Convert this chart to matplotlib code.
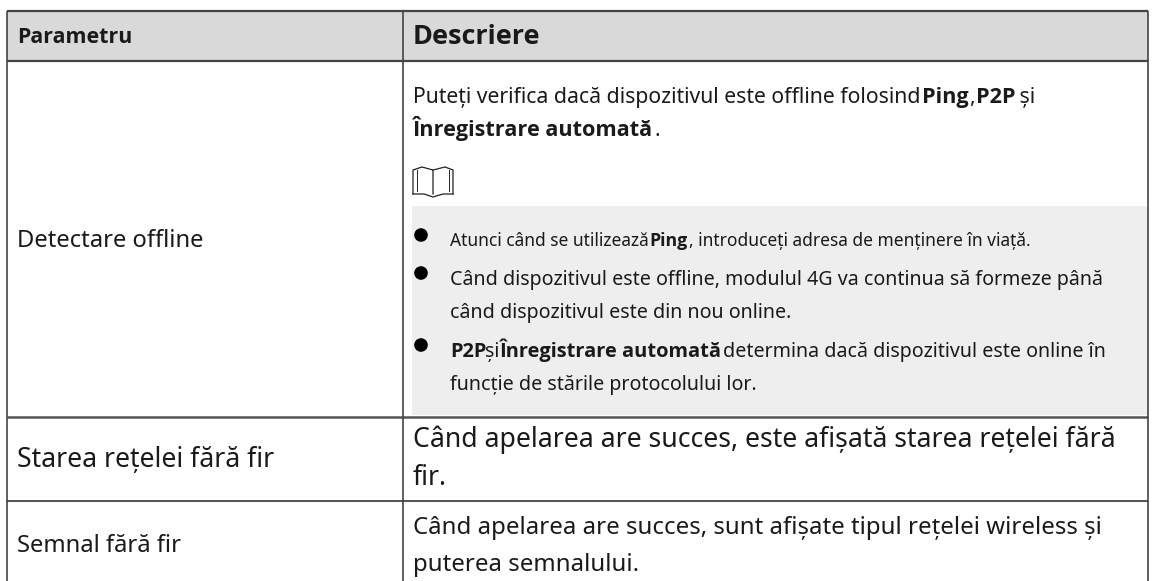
import matplotlib
matplotlib.use('Agg')
import matplotlib.pyplot as plt
from matplotlib.patches import Rectangle, Circle

plt.rcParams['font.family'] = ['Noto Sans', 'DejaVu Sans']

W, H = 1155, 581

col_edges = [7, 403, 1148]
row_edges = [11, 61, 417, 501, 581]

header_left = 'Parametru'
header_right = 'Descriere'
params = ['Detectare offline', 'Starea rețelei fără fir', 'Semnal fără fir']
intro = [
    [('Puteți verifica dacă dispozitivul este offline folosind', 0), ('Ping', 1), (',', 0), ('P2P', 1), (' și', 0)],
    [('Înregistrare automată', 1), ('.', 0)],
]
bullets = [
    [('Atunci când se utilizează', 0), ('Ping', 1), (', introduceți adresa de menținere în viață.', 0)],
    [('Când dispozitivul este offline, modulul 4G va continua să formeze până', 0)],
    [('când dispozitivul este din nou online.', 0)],
    [('P2P', 1), ('și', 0), ('Înregistrare automată', 1), ('determina dacă dispozitivul este online în', 0)],
    [('funcție de stările protocolului lor.', 0)],
]
bullet_sizes = [17.4, 19.6, 19.6, 19.6, 19.6]
bullet_ys = [246, 285, 318, 357, 390]
bullet_dots = [235, 273, 345]
row2_text = ['Când apelarea are succes, este afișată starea rețelei fără', 'fir.']
row3_text = ['Când apelarea are succes, sunt afișate tipul rețelei wireless și', 'puterea semnalului.']

TEXT = '#1a1a1a'

fig = plt.figure(figsize=(W / 100, H / 100), dpi=100, facecolor='white')
ax = fig.add_axes([0, 0, 1, 1])
ax.set_xlim(0, W)
ax.set_ylim(H, 0)
ax.axis('off')
renderer = fig.canvas.get_renderer()


def px(size):
    return size * 72 / 100


def font_kw(size, bold):
    # the Noto Sans here is a variable font with no real bold, Open Sans has one
    if bold:
        return dict(fontsize=px(size * 1.02), family=['Open Sans', 'DejaVu Sans'], fontweight='bold')
    return dict(fontsize=px(size))


def draw_runs(x, y, size, runs, gap=1.0):
    for text, bold in runs:
        ax.text(x, y, text, color=TEXT, va='baseline', **font_kw(size, bold))
        # trailing spaces are not measured, so measure with a dot on the end
        probe = ax.text(0, 0, text + '.', **font_kw(size, bold))
        dot = ax.text(0, 0, '.', **font_kw(size, bold))
        x += probe.get_window_extent(renderer).width - dot.get_window_extent(renderer).width + gap
        probe.remove()
        dot.remove()


# header and note backgrounds
ax.add_patch(Rectangle((col_edges[0], row_edges[0]), col_edges[2] - col_edges[0],
                       row_edges[1] - row_edges[0], fc='#d9d9d9', ec='none'))
ax.add_patch(Rectangle((412, 206), 736, 209, fc='#eeeeee', ec='none'))

# grid lines
for y, lw, c in zip(row_edges[:4], [1.6, 1.6, 1.8, 1.1], ['#444444', '#444444', '#555555', '#222222']):
    ax.plot([col_edges[0], col_edges[2]], [y, y], color=c, lw=lw, solid_capstyle='butt')
for x in col_edges:
    ax.plot([x, x], [row_edges[0], H], color='#444444', lw=1.2, solid_capstyle='butt')

# header
draw_runs(17, 43, 21, [(header_left, 1)])
draw_runs(413, 44, 26.5, [(header_right, 1)])

# first column
ax.text(17, 247, params[0], fontsize=px(23.8), va='baseline', color=TEXT)
ax.text(17, 467, params[1], fontsize=px(26.6), va='baseline', color=TEXT)
ax.text(17, 552, params[2], fontsize=px(23.8), va='baseline', color=TEXT)

# description of row 1
draw_runs(413, 103, 21.2, intro[0])
draw_runs(413, 136, 21.2, intro[1])

# book icon
ax.plot([413, 413, 422, 433, 433], [194, 170, 167, 170, 194], color='#222222', lw=0.9)
ax.plot([433, 445, 453, 453], [170, 167, 170, 194], color='#222222', lw=0.9)
ax.plot([417, 417], [170, 191], color='#222222', lw=0.7)
ax.plot([449, 449], [170, 191], color='#222222', lw=0.7)
ax.plot([413, 424, 433, 443, 453], [194, 194, 197, 194, 194], color='#222222', lw=0.9)

# bullets
for y in bullet_dots:
    ax.add_patch(Circle((421, y), 6.8, fc='black', ec='none'))
for y, s, runs in zip(bullet_ys, bullet_sizes, bullets):
    draw_runs(450, y, s, runs)

# rows 2 and 3
ax.text(413, 447, row2_text[0], fontsize=px(26.6), va='baseline', color=TEXT)
ax.text(413, 485, row2_text[1], fontsize=px(26.6), va='baseline', color=TEXT)
ax.text(413, 534, row3_text[0], fontsize=px(24), va='baseline', color=TEXT)
ax.text(413, 571, row3_text[1], fontsize=px(24), va='baseline', color=TEXT)

fig.savefig('out.png', dpi=100)
